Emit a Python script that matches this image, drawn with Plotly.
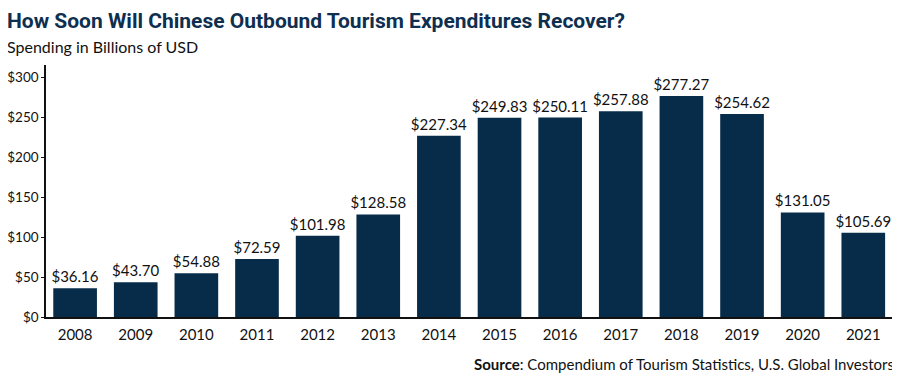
import plotly.graph_objects as go

years = ["2008", "2009", "2010", "2011", "2012", "2013", "2014",
         "2015", "2016", "2017", "2018", "2019", "2020", "2021"]
spending = [36.16, 43.70, 54.88, 72.59, 101.98, 128.58, 227.34,
            249.83, 250.11, 257.88, 277.27, 254.62, 131.05, 105.69]
tick_vals = [0, 50, 100, 150, 200, 250, 300]
tick_text = ["$0", "$50", "$100", "$150", "$200", "$250", "$300"]

BAR = "#062c4a"
FONT = "Lato, 'Open Sans', Arial, sans-serif"

fig = go.Figure(go.Bar(
    x=list(range(len(years))), y=spending,
    marker=dict(color=BAR, line=dict(width=0)),
    width=0.72,
    text=[f"${v:.2f}" for v in spending],
    textposition="outside",
    constraintext="none",
    textfont=dict(size=15, color="#111111", family=FONT),
    cliponaxis=False,
))

# the page body adds an 8px offset, so the figure is sized to fit the window
fig.update_layout(
    width=892, height=373,
    margin=dict(l=38, r=7, t=57, b=64),
    paper_bgcolor="white", plot_bgcolor="white",
    showlegend=False,
    font=dict(family=FONT, color="#111111"),
    xaxis=dict(
        range=[-0.48, 13.49],
        tickmode="array", tickvals=list(range(len(years))), ticktext=years,
        showline=True, linecolor="#111111", linewidth=1.5,
        ticks="", showgrid=False, zeroline=False,
        tickfont=dict(size=15, color="#111111"),
        ticklabelstandoff=3,
        fixedrange=True, automargin=False,
    ),
    yaxis=dict(
        range=[0, 316],
        tickmode="array", tickvals=tick_vals, ticktext=tick_text,
        showline=True, linecolor="#111111", linewidth=1.5,
        ticks="outside", ticklen=3, tickcolor="#111111",
        showgrid=False, zeroline=False,
        tickfont=dict(size=13.5, color="#111111"),
        fixedrange=True, automargin=False,
    ),
)

fig.add_annotation(
    text="<b>How Soon Will Chinese Outbound Tourism Expenditures Recover?</b>",
    xref="paper", yref="paper", x=0, y=1, xanchor="left", yanchor="top",
    xshift=-40, yshift=57, showarrow=False, borderpad=0,
    font=dict(size=21, color="#0e2f4f", family="Roboto, 'Open Sans', sans-serif"),
)
fig.add_annotation(
    text="Spending in Billions of USD",
    xref="paper", yref="paper", x=0, y=1, xanchor="left", yanchor="middle",
    xshift=-40, yshift=19, showarrow=False, borderpad=0,
    font=dict(size=16, color="#111111"),
)
fig.add_annotation(
    text="<b>Source</b>: Compendium of Tourism Statistics, U.S. Global Investors",
    xref="paper", yref="paper", x=1, y=0, xanchor="right", yanchor="top",
    xshift=3, yshift=-36, showarrow=False,
    font=dict(size=15, color="#111111"),
)

fig.write_html("out.html")
